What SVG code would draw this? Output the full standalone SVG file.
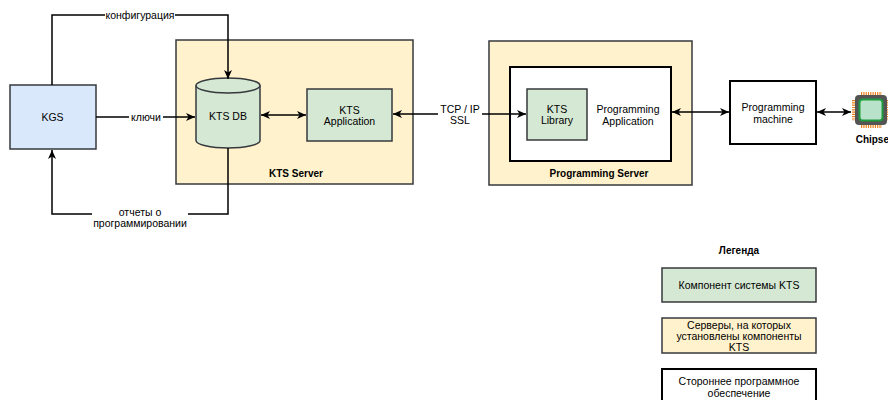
<svg xmlns="http://www.w3.org/2000/svg" width="888" height="400" viewBox="0 0 888 400">
<defs>
<marker id="arr" markerUnits="userSpaceOnUse" markerWidth="10" markerHeight="8" refX="9" refY="4" orient="auto-start-reverse">
<path d="M0,0 L9,4 L0,8 L2.5,4 Z" fill="#000"/>
</marker>
<style>
text{font-family:"Liberation Sans",Arial,sans-serif;font-size:10.5px;fill:#000;text-anchor:middle}
.b{font-weight:bold;font-size:10px}
.box{stroke:#36393d;stroke-width:1.5}
.green{fill:#d5e8d4}
.yellow{fill:#fff2cc}
.blue{fill:#dae8fc}
.ext{fill:#fff;stroke:#000;stroke-width:2}
.edge{fill:none;stroke:#000;stroke-width:1.5}
.lbl{fill:#fff}
</style>
</defs>
<rect width="888" height="400" fill="#fff"/>

<g id="kts-server">
<rect class="box yellow" x="176" y="40" width="237" height="144"/>
<text class="b" x="296" y="176.5">KTS Server</text>
</g>
<g id="programming-server">
<rect class="box yellow" x="489" y="41" width="203" height="144"/>
<text class="b" x="599" y="176.5">Programming Server</text>
</g>
<g id="programming-application">
<rect class="ext" x="510" y="67" width="161" height="94"/>
<text x="628" y="112.5">Programming</text>
<text x="628" y="124.5">Application</text>
</g>
<g id="kgs">
<rect class="box blue" x="10" y="85" width="86" height="64"/>
<text x="52.5" y="120.5">KGS</text>
</g>
<g id="kts-db">
<path class="box green" d="M196,85.5 A32,7.5 0 0 1 260,85.5 V140.5 A32,7.5 0 0 1 196,140.5 Z"/>
<path class="box" fill="none" d="M196,85.5 A32,7.5 0 0 0 260,85.5"/>
<text x="228" y="120">KTS DB</text>
</g>
<g id="kts-application">
<rect class="box green" x="307" y="89" width="85" height="52"/>
<text x="349.5" y="113.7">KTS</text>
<text x="349.5" y="124.7">Application</text>
</g>
<g id="kts-library">
<rect class="box green" x="527" y="89" width="60" height="51"/>
<text x="557" y="112.7">KTS</text>
<text x="557" y="123.7">Library</text>
</g>
<g id="programming-machine">
<rect class="ext" x="730" y="81" width="86" height="63"/>
<text x="773" y="110.5">Programming</text>
<text x="773" y="122.5">machine</text>
</g>
<g id="chipset">
<g stroke="#e8821e" stroke-width="3" stroke-dasharray="1.2 1.1" fill="none">
<line x1="853.5" y1="100" x2="853.5" y2="121"/>
<line x1="888.5" y1="100" x2="888.5" y2="121"/>
<line x1="861" y1="93.5" x2="882" y2="93.5"/>
<line x1="861" y1="126.5" x2="882" y2="126.5"/>
</g>
<rect x="855" y="95" width="32" height="30" rx="4" fill="#545454"/>
<rect x="859.5" y="99.5" width="23" height="21" rx="3" fill="#b9e2cb" stroke="#1f9a3e" stroke-width="2"/>
<text class="b" x="874" y="143">Chipset</text>
</g>

<g id="connectors">
<path class="edge" d="M52,85 V15 H228 V79" marker-end="url(#arr)"/>
<path class="edge" d="M96,117 H195" marker-end="url(#arr)"/>
<path class="edge" d="M228,148 V214 H52 V150" marker-end="url(#arr)"/>
<path class="edge" d="M261,115 H306" marker-start="url(#arr)" marker-end="url(#arr)"/>
<path class="edge" d="M393,114 H526" marker-start="url(#arr)" marker-end="url(#arr)"/>
<path class="edge" d="M672,112 H729" marker-start="url(#arr)" marker-end="url(#arr)"/>
<path class="edge" d="M817,112 H851" marker-start="url(#arr)" marker-end="url(#arr)"/>
<rect class="lbl" x="105" y="9" width="70" height="12"/>
<text x="140" y="18.5">конфигурация</text>
<rect class="lbl" x="129" y="111" width="34" height="12"/>
<text x="146" y="120.5">ключи</text>
<rect class="lbl" x="92" y="206" width="96" height="24"/>
<text x="140" y="215.5">отчеты о</text>
<text x="140" y="226.5">программировании</text>
<rect class="lbl" x="438" y="103" width="44" height="24"/>
<text x="460" y="112.5">TCP / IP</text>
<text x="460" y="123.5">SSL</text>
</g>

<g id="legend">
<text class="b" x="739" y="254">Легенда</text>
<rect class="box green" x="662" y="268" width="154" height="34"/>
<text x="739" y="288.5">Компонент системы KTS</text>
<rect class="box yellow" x="662" y="318" width="154" height="35"/>
<text x="739" y="328.5">Серверы, на которых</text>
<text x="739" y="340">установлены компоненты</text>
<text x="739" y="351">KTS</text>
<rect class="ext" x="662" y="369" width="154" height="36"/>
<text x="739" y="385">Стороннее программное</text>
<text x="739" y="396.5">обеспечение</text>
</g>
</svg>
